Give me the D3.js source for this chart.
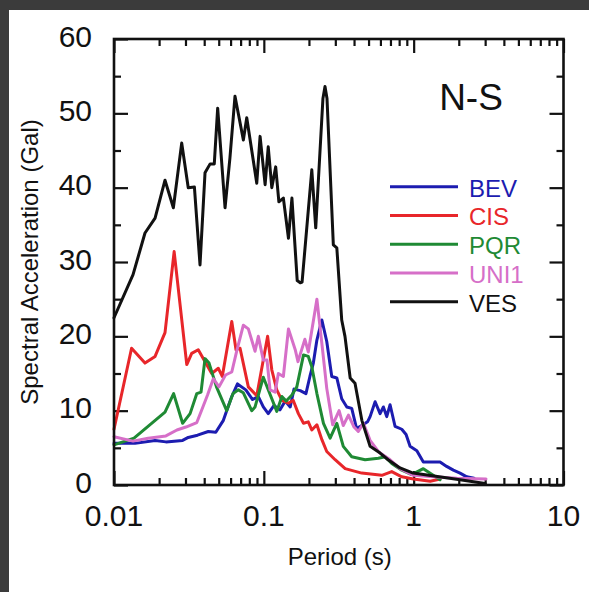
<!DOCTYPE html>
<html><head><meta charset="utf-8">
<script src="https://cdn.jsdelivr.net/npm/d3@7"></script>
<style>
body{margin:0;background:#fff;}
svg{display:block;}
text{font-family:"Liberation Sans",Arial,Helvetica,sans-serif;}
</style>
</head><body>
<svg id="chart" width="589" height="592"></svg>
<script>
// ---- data (period in s, spectral acceleration in Gal) ----
const seriesNames = ["BEV", "CIS", "PQR", "UNI1", "VES"];
const seriesColors = ["#1c1cb0", "#e8262a", "#1f8a34", "#d66fc8", "#111111"];

const bevT = [0.0100,0.0138,0.0188,0.0222,0.0287,0.0313,0.0361,0.0426,0.0478,0.0537,0.0565,0.0611,0.0667,0.0758,0.0841,0.0919,0.0992,0.107,0.117,0.128,0.139,0.150,0.159,0.175,0.191,0.203,0.214,0.226,0.244,0.263,0.284,0.307,0.331,0.358,0.386,0.416,0.459,0.492,0.512,0.553,0.597,0.628,0.661,0.696,0.751,0.833,0.890,0.946,1.05,1.16,1.50,1.66,1.84,2.04,2.26,2.53];
const bevV = [5.6,5.6,6.0,5.8,6.0,6.4,6.7,7.2,7.1,8.7,10.0,11.9,13.6,12.8,11.5,11.9,10.5,9.6,10.7,10.1,11.3,10.5,12.9,12.7,12.3,14.6,16.4,19.5,22.2,19.3,14.6,14.4,11.6,10.5,10.3,7.6,8.1,8.5,9.2,11.2,9.6,10.5,9.2,10.8,7.9,7.5,6.8,5.2,4.6,3.1,3.1,2.5,2.0,1.6,1.1,0.9];

const cisT = [0.0100,0.0131,0.0161,0.0188,0.0219,0.0252,0.0306,0.0330,0.0365,0.0449,0.0497,0.0528,0.0611,0.0652,0.0694,0.0788,0.0897,0.106,0.113,0.122,0.132,0.146,0.157,0.170,0.184,0.198,0.209,0.226,0.244,0.263,0.299,0.349,0.450,0.613,0.714,0.833,0.995,1.29,1.50];
const cisV = [7.5,18.4,16.4,17.3,20.5,31.4,16.2,17.7,18.2,15.0,15.7,14.6,22.0,18.2,18.4,13.2,12.0,20.0,15.5,12.8,11.4,11.0,11.4,9.6,8.3,8.5,7.4,8.1,6.1,4.5,3.4,2.2,1.6,1.3,1.8,1.1,0.8,0.5,0.8];

const pqrT = [0.0100,0.0136,0.0219,0.0250,0.0287,0.0322,0.0357,0.0381,0.0405,0.0431,0.0483,0.0565,0.0623,0.0676,0.0730,0.0830,0.0874,0.0992,0.110,0.122,0.132,0.141,0.154,0.166,0.184,0.198,0.209,0.226,0.250,0.277,0.307,0.339,0.386,0.474,0.581,0.645,0.714,0.833,0.971,1.16,1.35,1.50];
const pqrV = [5.4,6.3,9.8,12.3,8.3,9.6,12.3,12.5,17.0,16.4,13.2,10.0,12.3,12.8,12.4,10.0,10.5,14.5,12.2,9.9,11.9,11.3,12.1,13.2,17.5,17.3,15.9,12.3,8.3,6.3,8.3,5.2,3.8,3.4,3.6,3.8,2.9,2.0,1.4,2.2,1.3,0.7];

const uniT = [0.0100,0.0134,0.0169,0.0222,0.0263,0.0302,0.0357,0.0385,0.0421,0.0460,0.0502,0.0555,0.0611,0.0659,0.0730,0.0788,0.0874,0.0919,0.0992,0.105,0.110,0.119,0.125,0.135,0.146,0.162,0.169,0.188,0.198,0.226,0.245,0.263,0.288,0.318,0.339,0.367,0.400,0.427,0.462,0.512,0.588,0.685,0.811,0.995,1.35,1.94,3.04];
const uniV = [6.5,5.9,6.3,6.6,7.4,7.8,8.4,10.1,12.1,14.3,13.2,14.8,15.2,18.0,21.5,21.0,18.0,20.0,16.8,16.8,12.8,12.5,15.0,14.6,21.0,18.2,16.6,19.6,17.9,25.0,18.7,13.0,8.1,10.0,8.0,9.4,7.8,7.2,8.3,6.0,4.4,3.5,2.2,1.3,1.1,0.9,0.8];

const vesT = [0.0100,0.0134,0.0161,0.0188,0.0219,0.0249,0.0283,0.0313,0.0344,0.0375,0.0405,0.0438,0.0467,0.0492,0.0551,0.0594,0.0642,0.0730,0.0769,0.0897,0.0944,0.102,0.107,0.113,0.120,0.126,0.135,0.146,0.154,0.167,0.175,0.180,0.209,0.222,0.248,0.256,0.264,0.291,0.307,0.331,0.348,0.377,0.406,0.451,0.512,0.597,0.675,0.811,0.991,2.04,3.00];
const vesV = [22.5,28.3,33.9,35.9,41.0,37.3,46.0,40.0,40.1,29.6,42.0,43.2,43.2,50.7,37.3,44.0,52.3,46.4,49.4,40.6,46.9,40.4,45.5,40.0,42.8,38.1,38.6,33.2,38.6,27.5,27.2,27.3,42.4,34.6,52.0,53.6,52.0,32.3,31.9,22.2,20.0,14.4,13.7,8.7,5.2,4.3,3.4,2.3,1.6,0.7,0.2];

const xMajorTicks = [0.01, 0.1, 1, 10];
const yMajorTicks = [0, 10, 20, 30, 40, 50, 60];
const yMinorTicks = [5, 15, 25, 35, 45, 55];
const xLabel = "Period (s)";
const yLabel = "Spectral Acceleration (Gal)";
const panelLabel = "N-S";

// ---- build ----
const periods = [bevT, cisT, pqrT, uniT, vesT];
const values = [bevV, cisV, pqrV, uniV, vesV];
const series = seriesNames.map((name, i) => ({
  name, color: seriesColors[i],
  points: d3.zip(periods[i], values[i])
}));

const svg = d3.select("#chart");
const W = 589, H = 592;
const L = 114, R = 563.5, T = 39, B = 485;

svg.append("rect").attr("width", W).attr("height", H).attr("fill", "#fff");
svg.append("rect").attr("x", 0).attr("y", 0).attr("width", 9).attr("height", H).attr("fill", "#3b3b3b");
svg.append("rect").attr("x", 0).attr("y", 0).attr("width", W).attr("height", 10).attr("fill", "#3b3b3b");

const x = d3.scaleLog().domain([0.01, 10]).range([L, R]);
const y = d3.scaleLinear().domain([0, 60]).range([B, T]);

const xMinorTicks = [];
[0.01, 0.1, 1].forEach(d => { for (let k = 2; k <= 9; k++) xMinorTicks.push(+(d * k).toPrecision(3)); });

function styleAxis(g) {
  g.select(".domain").remove();
  g.selectAll("line").attr("stroke", "#111").attr("stroke-width", 2.2);
  g.selectAll("text").remove();
}
svg.append("g").attr("transform", `translate(0,${B})`).call(d3.axisBottom(x).tickValues(xMajorTicks).tickSize(-14)).call(styleAxis);
svg.append("g").attr("transform", `translate(0,${B})`).call(d3.axisBottom(x).tickValues(xMinorTicks).tickSize(-7)).call(styleAxis);
svg.append("g").attr("transform", `translate(0,${T})`).call(d3.axisTop(x).tickValues(xMajorTicks).tickSize(-14)).call(styleAxis);
svg.append("g").attr("transform", `translate(0,${T})`).call(d3.axisTop(x).tickValues(xMinorTicks).tickSize(-7)).call(styleAxis);
svg.append("g").attr("transform", `translate(${L},0)`).call(d3.axisLeft(y).tickValues(yMajorTicks).tickSize(-14)).call(styleAxis);
svg.append("g").attr("transform", `translate(${L},0)`).call(d3.axisLeft(y).tickValues(yMinorTicks).tickSize(-7)).call(styleAxis);
svg.append("g").attr("transform", `translate(${R},0)`).call(d3.axisRight(y).tickValues(yMajorTicks).tickSize(-14)).call(styleAxis);
svg.append("g").attr("transform", `translate(${R},0)`).call(d3.axisRight(y).tickValues(yMinorTicks).tickSize(-7)).call(styleAxis);

// data lines
const line = d3.line().x(d => x(d[0])).y(d => y(d[1]));
svg.append("g").selectAll("path").data(series).join("path")
  .attr("d", d => line(d.points))
  .attr("fill", "none")
  .attr("stroke", d => d.color)
  .attr("stroke-width", 3)
  .attr("stroke-linejoin", "round")
  .attr("stroke-linecap", "round");

// frame
svg.append("rect").attr("x", L).attr("y", T).attr("width", R - L).attr("height", B - T)
  .attr("fill", "none").attr("stroke", "#111").attr("stroke-width", 2.6);

// tick labels
svg.append("g").selectAll("text").data(xMajorTicks).join("text")
  .attr("x", d => x(d)).attr("y", B + 41)
  .attr("text-anchor", "middle").attr("font-size", 30).attr("fill", "#111")
  .text(d => String(d));
svg.append("g").selectAll("text").data(yMajorTicks).join("text")
  .attr("x", 92).attr("y", d => y(d) + 7.8)
  .attr("text-anchor", "end").attr("font-size", 30).attr("fill", "#111")
  .text(d => String(d));

// axis titles
svg.append("text").attr("x", (L + R) / 2 + 1).attr("y", 565)
  .attr("text-anchor", "middle").attr("font-size", 24).attr("fill", "#111").text(xLabel);
svg.append("text").attr("transform", `translate(38,${(T + B) / 2}) rotate(-90)`)
  .attr("text-anchor", "middle").attr("font-size", 24).attr("fill", "#111").text(yLabel);

// panel label
svg.append("text").attr("x", 471).attr("y", 110)
  .attr("text-anchor", "middle").attr("font-size", 37).attr("fill", "#111").text(panelLabel);

// legend
const lg = svg.append("g");
series.forEach((s, i) => {
  const ry = 186.7 + i * 28.75;
  lg.append("line").attr("x1", 390).attr("x2", 458).attr("y1", ry).attr("y2", ry)
    .attr("stroke", s.color).attr("stroke-width", 3);
  lg.append("text").attr("x", 469).attr("y", ry + 10)
    .attr("font-size", 24).attr("fill", s.color).text(s.name);
});
</script>
</body></html>
